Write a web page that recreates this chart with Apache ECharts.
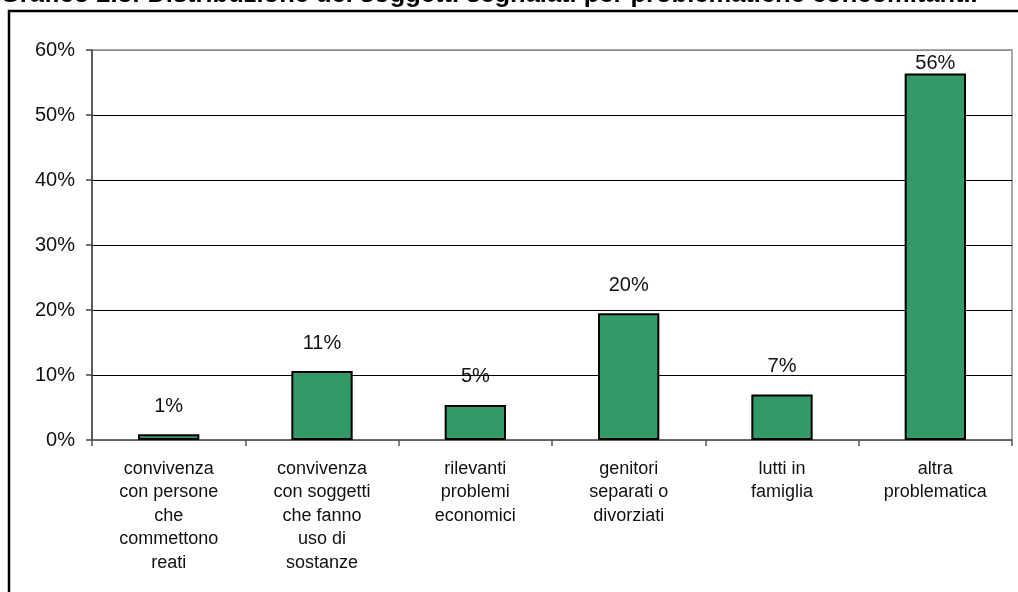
<!DOCTYPE html>
<html>
<head>
<meta charset="utf-8">
<script src="https://cdn.jsdelivr.net/npm/echarts@6/dist/echarts.min.js"></script>
<style>
  html, body { margin: 0; padding: 0; background: #fff; }
  #chart { width: 1018px; height: 592px; }
</style>
</head>
<body>
<div id="chart"></div>
<script>
// Problematiche concomitanti dei soggetti segnalati (percentuali)
const titleText = 'Grafico 2.3: Distribuzione dei soggetti segnalati per problematiche concomitanti.';
const categories = [
  'convivenza\ncon persone\nche\ncommettono\nreati',
  'convivenza\ncon soggetti\nche fanno\nuso di\nsostanze',
  'rilevanti\nproblemi\neconomici',
  'genitori\nseparati o\ndivorziati',
  'lutti in\nfamiglia',
  'altra\nproblematica'
];
const percentages = [0.9, 10.6, 5.4, 19.5, 7.0, 56.4];
const yTicks = [0, 10, 20, 30, 40, 50, 60];

const FONT = '"Liberation Sans", Arial, sans-serif';
const yMax = yTicks[yTicks.length - 1];

const chart = echarts.init(document.getElementById('chart'), null, { renderer: 'canvas' });

chart.setOption({
  animation: false,
  backgroundColor: '#ffffff',
  graphic: [
    {
      type: 'text',
      x: 0, y: 8,
      style: { text: titleText, font: 'bold 25.5px ' + FONT, fill: '#000', verticalAlign: 'bottom' }
    },
    {
      type: 'rect',
      shape: { x: 9, y: 11, width: 1200, height: 800 },
      style: { fill: 'none', stroke: '#000', lineWidth: 2.5 }
    }
  ],
  grid: {
    left: 92, right: 6, top: 50, bottom: 152,
    show: true, borderColor: '#8c8c8c', borderWidth: 1.5, backgroundColor: 'transparent'
  },
  xAxis: {
    type: 'category',
    data: categories,
    boundaryGap: true,
    axisLine: { show: true, lineStyle: { color: '#555', width: 1.5 } },
    axisTick: { show: true, length: 6, lineStyle: { color: '#555', width: 1.5 } },
    axisLabel: {
      interval: 0, margin: 17,
      fontFamily: FONT, fontSize: 18, lineHeight: 23.5, color: '#111', align: 'center'
    }
  },
  yAxis: {
    type: 'value',
    min: 0, max: yMax, interval: 10,
    axisLine: { show: true, lineStyle: { color: '#444', width: 1.5 } },
    axisTick: { show: true, length: 6, lineStyle: { color: '#444', width: 1.5 } },
    axisLabel: {
      formatter: v => v + '%', margin: 17,
      fontFamily: FONT, fontSize: 20, color: '#111'
    },
    splitLine: {
      show: true,
      lineStyle: { color: yTicks.map(t => (t === 0 || t === yMax) ? '#8c8c8c' : '#000'), width: 1 }
    }
  },
  series: [{
    type: 'bar',
    barWidth: '40%',
    // labels that would rise past the top of the plot sit right on the bar
    data: percentages.map(v => v > yMax - 6
      ? { value: v, label: { distance: 0 } }
      : v),
    itemStyle: { color: '#339966', borderColor: '#000', borderWidth: 2 },
    label: {
      show: true, position: 'top', distance: 18,
      formatter: p => Math.round(p.value) + '%',
      fontFamily: FONT, fontSize: 20, color: '#111'
    }
  }]
});
</script>
</body>
</html>
